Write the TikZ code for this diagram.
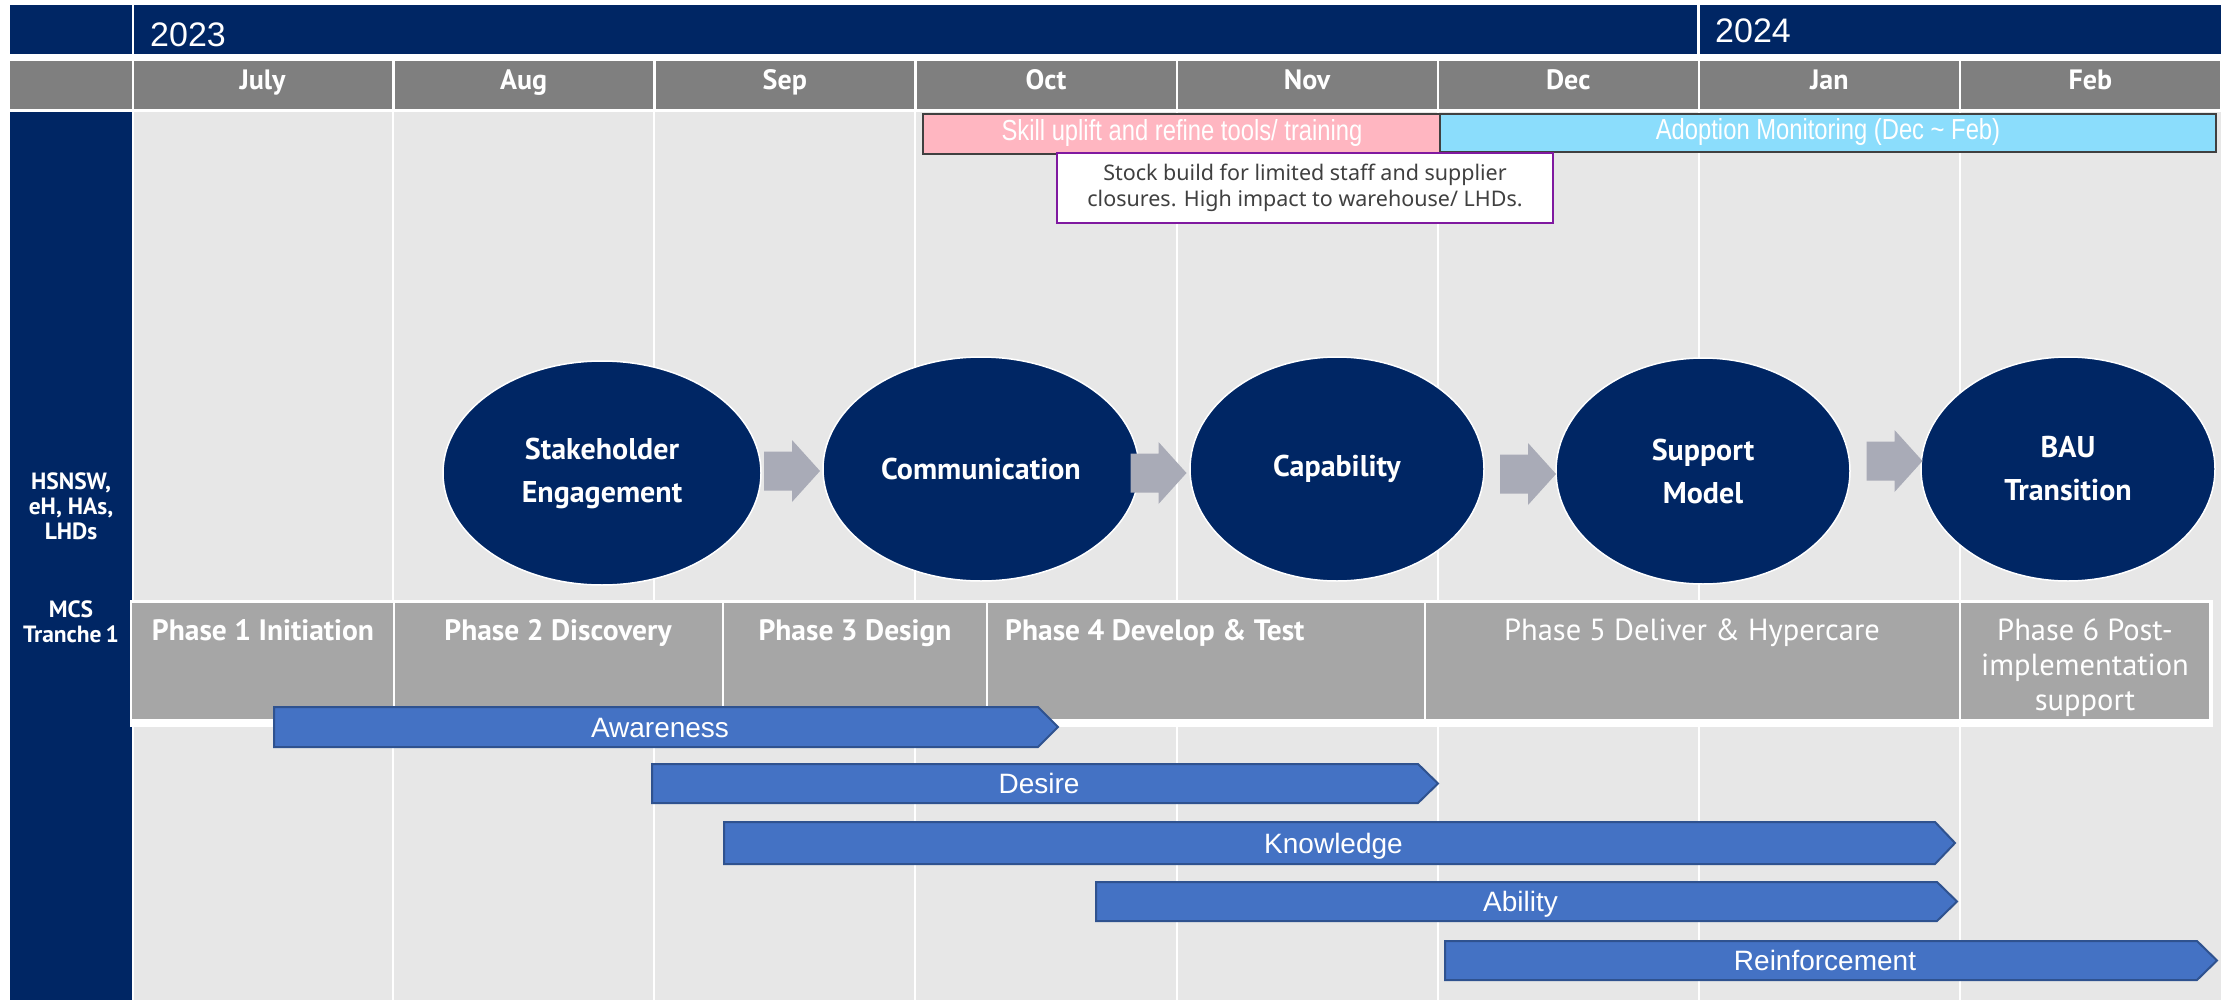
\documentclass[tikz,border=0pt]{standalone}
\usepackage{fontspec}
\setmainfont{Liberation Sans}
\newfontfamily\dinfont{PT Sans}
\newfontfamily\narrowfont{Liberation Sans}[FakeStretch=0.82]
\newfontfamily\notefont{Noto Sans}
\usetikzlibrary{calc,shapes.geometric}

\definecolor{navy}{HTML}{002664}
\definecolor{monthgray}{HTML}{7F7F7F}
\definecolor{bodygray}{HTML}{E7E7E7}
\definecolor{phasegray}{HTML}{A6A6A6}
\definecolor{pinkbar}{HTML}{FFB6C1}
\definecolor{skybar}{HTML}{8BDDFC}
\definecolor{flowgray}{HTML}{A9ABB7}
\definecolor{stageblue}{HTML}{4472C4}
\definecolor{stageedge}{HTML}{2F528F}
\definecolor{notepurple}{HTML}{8019A0}
\definecolor{darkline}{HTML}{404040}

\tikzset{
  monthtext/.style={font=\dinfont\bfseries\fontsize{28}{32}\selectfont, text=white, inner sep=0, anchor=base},
  yeartext/.style={font=\fontsize{34}{40}\selectfont, text=white, inner sep=0, anchor=base west},
  sidetext/.style={font=\dinfont\bfseries\fontsize{23.5}{25}\selectfont, text=white, align=center, inner sep=0, anchor=north},
  bandbar/.style={draw=darkline, line width=1.5pt, inner sep=0, text=white,
    font=\narrowfont\fontsize{29}{34}\selectfont, text height=21pt, text depth=8pt},
  notebox/.style={draw=notepurple, line width=2pt, fill=white, inner sep=0, align=center,
    text=darkline, font=\notefont\fontsize{21.5}{25.5}\selectfont},
  stagebubble/.style={ellipse, fill=navy, draw=white, line width=1.5pt, inner sep=0, text=white,
    align=center, font=\dinfont\bfseries\fontsize{30}{43}\selectfont},
  phasefill/.style={fill=phasegray},
  phasebold/.style={font=\dinfont\bfseries\fontsize{29.5}{35}\selectfont, text=white, inner sep=0},
  phaselight/.style={font=\dinfont\fontsize{30.5}{35}\selectfont, text=white, inner sep=0},
  stagebar/.style={fill=stageblue, draw=stageedge, line width=2pt, line join=miter},
  stagetext/.style={font=\fontsize{28}{34}\selectfont, text=white, inner sep=0, text height=20pt, text depth=0pt},
  flowarrow/.pic={\fill[flowgray] (-28,-19.5) -- (0,-19.5) -- (0,-31) -- (28,0) -- (0,31) -- (0,19.5) -- (-28,19.5) -- cycle;}
}

% one change-stage bar: name, left x, head base x, top y, bottom y, label
\newcommand{\drawstagebar}[6]{%
  \draw[stagebar] (#2,#4) -- (#3,#4) -- ({#3+20},{(#4+#5)/2}) -- (#3,#5) -- (#2,#5) -- cycle;
  \node[stagetext] (#1) at ({(#2+#3)/2+4},{(#4+#5)/2}) {#6};}

\begin{document}
\begin{tikzpicture}[x=1pt,y=-1pt]
\useasboundingbox (0,0) rectangle (2224,1000);
\fill[white] (0,0) rectangle (2224,1000);

% year band
\fill[navy] (10,5) rectangle (132,54);
\fill[navy] (134,5) rectangle (1697,54);
\fill[navy] (1700,5) rectangle (2221,54);
\node[yeartext] (y2023) at (150,47) {2023};
\node[yeartext] (y2024) at (1715,43) {2024};

% month row
\fill[monthgray] (10,61) rectangle (132,109);
\foreach \m [count=\i from 0] in {July,Aug,Sep,Oct,Nov,Dec,Jan,Feb} {
  \fill[monthgray] ({133.5+261.125*\i},61) rectangle ({131+261.125*(\i+1)},109);
  \node[monthtext] (month\i) at ({132+261.125*(\i+0.5)},90) {\m};
}

% body grid
\fill[navy] (10,112) rectangle (132,1000);
\fill[bodygray] (134,112) rectangle (2221,1000);
\foreach \i in {1,...,7}
  \draw[white, line width=2pt] ({132+261.125*\i},112) -- ({132+261.125*\i},1000);

% row labels
\node[sidetext] (orgs) at (71,473) {HSNSW,\\eH, HAs,\\LHDs};
\node[sidetext] (mcs) at (71,601) {MCS\\Tranche\,1};

% activity bands
\node[bandbar, fill=pinkbar, minimum width=518pt, minimum height=40pt] (skill) at (1182,134)
  {Skill uplift and refine tools/ training};
\node[bandbar, fill=skybar, minimum width=776pt, minimum height=38pt] (adopt) at (1828,133)
  {Adoption Monitoring (Dec \textasciitilde\ Feb)};
\node[notebox, minimum width=496pt, minimum height=70pt] (stock) at (1305,188)
  {Stock build for limited staff and supplier\\closures. High impact to warehouse/ LHDs.};

% change model bubbles
\node[stagebubble, minimum width=318pt, minimum height=224pt] (st) at (602,473) {Stakeholder\\Engagement};
\node[stagebubble, minimum width=316pt, minimum height=224pt] (co) at (981,469) {Communication};
\node[stagebubble, minimum width=294pt, minimum height=224pt] (ca) at (1337,469) {Capability};
\node[stagebubble, minimum width=294pt, minimum height=226pt] (su) at (1703,471) {Support\\Model};
\node[stagebubble, minimum width=294pt, minimum height=224pt] (ba) at (2068,469) {BAU\\Transition};

\pic at ($(st.east)!0.5!(co.west)$) {flowarrow};
\pic at ($(co.east)!0.5!(ca.west)+(-6,4)$) {flowarrow};
\pic at ($(ca.east)!0.5!(su.west)+(8,4)$) {flowarrow};
\pic at ($(su.east)!0.5!(ba.west)+(9,-9)$) {flowarrow};

% project phases
\fill[white] (130,600) rectangle (2213,727);
\fill[phasefill] (132,603) rectangle (393,719);
\fill[phasefill] (395,603) rectangle (722,719);
\fill[phasefill] (724,603) rectangle (986,719);
\fill[phasefill] (988,603) rectangle (1424,719);
\fill[phasefill] (1426,603) rectangle (1959,719);
\fill[phasefill] (1961,603) rectangle (2209,719);
\node[phasebold, anchor=base] (ph1) at (263,640) {Phase 1 Initiation};
\node[phasebold, anchor=base] (ph2) at (558,640) {Phase 2 Discovery};
\node[phasebold, anchor=base] (ph3) at (855,640) {Phase 3 Design};
\node[phasebold, anchor=base west] (ph4) at (1005,640) {Phase 4 Develop \& Test};
\node[phaselight, anchor=base] (ph5) at (1692,640) {Phase 5 Deliver \& Hypercare};
\node[phaselight, anchor=north, align=center] (ph6) at (2085,619) {Phase 6 Post-\\implementation\\support};

% ADKAR stages
\drawstagebar{aw}{274}{1038}{707}{747}{Awareness}
\drawstagebar{de}{652}{1418}{764}{803}{Desire}
\drawstagebar{kn}{724}{1935}{822}{864}{Knowledge}
\drawstagebar{ab}{1096}{1937}{882}{921}{Ability}
\drawstagebar{re}{1445}{2197}{941}{980}{Reinforcement}
\end{tikzpicture}
\end{document}
